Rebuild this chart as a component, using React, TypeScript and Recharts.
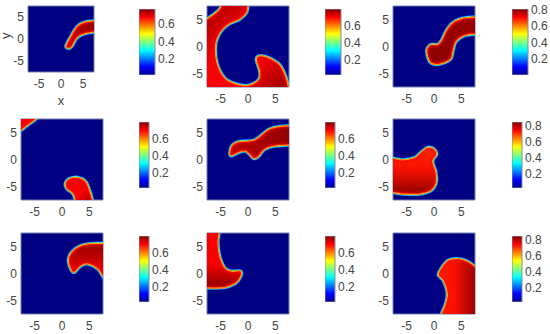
import React from "react";
import { BarChart, Bar, ScatterChart, Scatter, XAxis, YAxis, ReferenceArea } from "recharts";

type Pair = [number, number];

// outlines, in axis units; they run past +-7.5 where a blob meets the frame
const shape1: Pair[] = [[1.1, -1.4], [2.3, 0.9], [3.6, 2.9], [5.3, 3.9], [7.5, 4.2], [9, 4.2], [9, 1.4], [7.5, 1.5], [5, 1.0], [3.6, 0.1], [2.5, -1.8], [1.8, -2.2], [1.2, -2]];
const shape2: Pair[] = [[-5, 7.44], [-4.5, 8.4], [0.37, 8.4], [0.06, 7.44], [-0.24, 6.2], [-1.46, 5.0], [-3.6, 4.0], [-5.1, 2.44], [-5.85, 0.3], [-5.6, -3.05], [-4.2, -5.8], [-2.07, -6.9], [0.06, -7.13], [1.9, -6.1], [2.07, -4.57], [1.46, -2.44], [2, -1.7], [3.7, -1.95], [5.85, -3.35], [6.95, -5.5], [7.44, -7.44], [7.6, -8.6], [-8.6, -8.6], [-8.6, 4.5], [-7.5, 5.2], [-6.34, 6], [-5.4, 6.8]];
const shape3: Pair[] = [[-1.4, -0.9], [-1.1, 0], [-0.5, 0.43], [0.73, 0.49], [1.5, 1.5], [2.4, 3.35], [3.8, 4.76], [5.6, 5.37], [7.5, 5.5], [9, 5.5], [9, 2.2], [7.5, 2.2], [5.6, 1.95], [4.1, 0.9], [3.6, -0.6], [3.17, -2.3], [1.95, -3.05], [0.43, -3.4], [-0.8, -2.9]];
const shape4a: Pair[] = [[-9, 4.2], [-7.5, 5.34], [-6, 6.5], [-4.66, 7.5], [-3.5, 9], [-9, 9]];
const shape4b: Pair[] = [[0.55, -4.4], [1.3, -3.5], [2.8, -3.25], [4.35, -4], [5.15, -5.83], [5.6, -7.42], [5.8, -9], [2.5, -9], [2.33, -7.42], [1.9, -6.3], [0.86, -5.5]];
const shape5: Pair[] = [[-3.4, 1.2], [-3, 2.6], [-1.77, 3.35], [0.67, 3.54], [1.9, 4.15], [3.7, 5.6], [5.55, 6.15], [7.5, 6.28], [9, 6.28], [9, 2.6], [7.5, 2.6], [4.9, 2.44], [3.1, 1.83], [1.9, 0.43], [1, 0.12], [0.24, 0.9], [-0.55, 1.5], [-1.77, 1.2], [-3, 0.6]];
const shape6: Pair[] = [[-9, 0.6], [-7.5, 0.3], [-5.67, 0], [-3.54, 0.43], [-2.3, 1.5], [-1.1, 2.3], [0.12, 1.95], [0.55, 0.9], [-0.18, -0.3], [0.43, -2.44], [0.43, -4.4], [-0.5, -5.8], [-2.6, -6.46], [-5.67, -6.46], [-7.5, -6.2], [-9, -6.1]];
const shape7: Pair[] = [[1.1, 2.33], [1.6, 3.87], [3.13, 5.1], [5, 5.58], [7.55, 5.64], [9, 5.64], [9, -1.9], [7.55, -0.74], [6.5, 0.8], [4.66, 1.72], [3.4, 1.29], [2.33, 0.18], [1.7, 0.49]];
const shape8: Pair[] = [[-5.24, 7.44], [-5.43, 5.67], [-5.12, 3.23], [-4.2, 1.1], [-3, 0.49], [-1.28, 0.49], [-1.34, -0.73], [-2.38, -1.95], [-4.5, -2.68], [-7.5, -2.74], [-9, -2.74], [-9, 9], [-5.2, 9]];
const shape9: Pair[] = [[1.34, -7.38], [1.16, -9], [9, -9], [9, 0.6], [7.5, 1.4], [6.2, 2.3], [4.4, 2.8], [2.56, 2.5], [1.34, 1.1], [0.73, -0.3], [1.65, -1.34], [2.38, -3.78], [1.95, -5.9]];

const axisTicks = [-5, 0, 5];
const barTicksLow = [0.2, 0.4, 0.6];
const barTicksHigh = [0.2, 0.4, 0.6, 0.8];

// colorbar ranges per panel
const barRanges: Pair[] = [[0.017, 0.77], [0.024, 0.8], [0.005, 0.81], [0.012, 0.8], [0.012, 0.8], [0.025, 0.846], [0.012, 0.8], [0.012, 0.8], [0.025, 0.846]];

const INK = "#454545";
const FRAME = "#7480ac";
const NAVY = "#000082";
const FONT = "'Liberation Sans', Arial, sans-serif";
const tickStyle = { fill: INK, fontSize: 12, fontFamily: FONT };

const outerRings: [number, string][] = [[3, "#0060ff"], [2.2, "#10c8f0"], [1, "#a0f060"]];
const innerRings: [number, string, number][] = [[7, "#ff0000", 0.25], [4.5, "#ff0000", 0.4], [2.8, "#ff1000", 1], [1.9, "#ff7000", 1], [1, "#ffd020", 1]];

// closed catmull-rom through the projected points
function smoothPath(pts: { x: number; y: number }[]) {
  const n = pts.length;
  let d = `M${pts[0].x},${pts[0].y}`;
  for (let i = 0; i < n; i++) {
    const a = pts[(i - 1 + n) % n];
    const b = pts[i];
    const c = pts[(i + 1) % n];
    const e = pts[(i + 2) % n];
    d += `C${b.x + (c.x - a.x) / 6},${b.y + (c.y - a.y) / 6} ${c.x - (e.x - b.x) / 6},${c.y - (e.y - b.y) / 6} ${c.x},${c.y}`;
  }
  return d + "Z";
}

const blobLine = (id: string, gradId: string) => (props: any) => {
  const d = smoothPath(props.points);
  return (
    <g key={id}>
      <clipPath id={id}>
        <path d={d} />
      </clipPath>
      {outerRings.map(([w, c]) => (
        <path key={w} d={d} fill="none" stroke={c} strokeWidth={w} />
      ))}
      <path d={d} fill={`url(#${gradId})`} />
      <g clipPath={`url(#${id})`}>
        {innerRings.map(([w, c, o]) => (
          <path key={w} d={d} fill="none" stroke={c} strokeOpacity={o} strokeWidth={w} />
        ))}
      </g>
    </g>
  );
};

type PanelProps = {
  name: string;
  left: number;
  top: number;
  w: number;
  h: number;
  shapes: Pair[][];
  grad: [number, number, number, number];
  stops: [number, string][];
  labels?: boolean;
};

const Panel = ({ name, left, top, w, h, shapes, grad, stops, labels }: PanelProps) => {
  const padLeft = 28;
  const padTop = 4;
  return (
    <div style={{ position: "absolute", left: left - padLeft, top: top - padTop }}>
      <ScatterChart
        width={padLeft + w + 4}
        height={padTop + h + 36}
        margin={{ top: padTop, right: 4, bottom: 0, left: 0 }}
      >
        <defs>
          <linearGradient id={`${name}-fill`} x1={grad[0]} y1={grad[1]} x2={grad[2]} y2={grad[3]}>
            {stops.map(([o, c]) => (
              <stop key={o} offset={o} stopColor={c} />
            ))}
          </linearGradient>
        </defs>
        <XAxis
          type="number"
          dataKey="x"
          domain={[-7.5, 7.5]}
          ticks={axisTicks}
          allowDataOverflow
          height={36}
          tick={tickStyle}
          tickLine={false}
          tickSize={0}
          axisLine={false}
          tickMargin={7}
          interval={0}
          label={labels ? { value: "x", position: "insideBottom", offset: 3, fill: INK, fontSize: 13, fontFamily: FONT } : undefined}
        />
        <YAxis
          type="number"
          dataKey="y"
          domain={[-7.5, 7.5]}
          ticks={axisTicks}
          allowDataOverflow
          width={padLeft}
          tick={tickStyle}
          tickLine={false}
          tickSize={0}
          axisLine={false}
          tickMargin={4}
          interval={0}
          label={labels ? { value: "y", angle: -90, position: "insideLeft", offset: 0, dx: 5, fill: INK, fontSize: 13, fontFamily: FONT } : undefined}
        />
        <ReferenceArea x1={-7.5} x2={7.5} y1={-7.5} y2={7.5} fill={NAVY} fillOpacity={1} stroke={FRAME} />
        {shapes.map((s, i) => (
          <Scatter
            key={i}
            data={s.map(([x, y]) => ({ x, y }))}
            isAnimationActive={false}
            shape={() => <g />}
            line={blobLine(`${name}-clip-${i}`, `${name}-fill`)}
          />
        ))}
      </ScatterChart>
    </div>
  );
};

const ColorBar = ({ name, left, top, w, h, range, ticks }: { name: string; left: number; top: number; w: number; h: number; range: Pair; ticks: number[] }) => {
  const pad = 7;
  return (
    <div style={{ position: "absolute", left, top: top - pad }}>
      <BarChart
        width={w + 22}
        height={h + 2 * pad}
        data={[{ name, range }]}
        barCategoryGap={0}
        margin={{ top: pad, right: 0, bottom: pad, left: 0 }}
      >
        <defs>
          <linearGradient id={`${name}-jet`} x1={0} y1={1} x2={0} y2={0}>
            <stop offset={0} stopColor="#00008f" />
            <stop offset={0.125} stopColor="#0000ff" />
            <stop offset={0.375} stopColor="#00ffff" />
            <stop offset={0.625} stopColor="#ffff00" />
            <stop offset={0.875} stopColor="#ff0000" />
            <stop offset={1} stopColor="#800000" />
          </linearGradient>
        </defs>
        <XAxis dataKey="name" hide />
        <YAxis
          orientation="right"
          type="number"
          domain={range}
          ticks={ticks}
          allowDataOverflow
          interval={0}
          width={22}
          tick={tickStyle}
          tickLine={false}
          tickSize={0}
          axisLine={false}
          tickMargin={3}
          tickFormatter={(v: number) => v.toFixed(1)}
        />
        <Bar dataKey="range" fill={`url(#${name}-jet)`} stroke="#8a8a9c" isAnimationActive={false} />
      </BarChart>
    </div>
  );
};

const darkRed = "#8c0000";
const midRed = "#c00000";
const red = "#f80000";

export default function App() {
  return (
    <div style={{ position: "absolute", left: 0, top: 0, width: 550, height: 334, background: "#fff", overflow: "hidden" }}>
      <Panel name="p1" left={28} top={6} w={66} h={66} shapes={[shape1]} grad={[0, 0, 1, 0]} stops={[[0, midRed], [1, darkRed]]} labels />
      <Panel name="p2" left={207} top={6} w={82} h={81} shapes={[shape2]} grad={[0, 0, 1, 1]} stops={[[0, darkRed], [0.4, red], [0.62, red], [0.95, darkRed]]} />
      <Panel name="p3" left={393} top={6} w={82} h={81} shapes={[shape3]} grad={[0, 1, 1, 0]} stops={[[0, darkRed], [1, "#a00000"]]} />
      <Panel name="p4" left={21} top={119} w={82} h={81} shapes={[shape4a, shape4b]} grad={[0, 0, 1, 1]} stops={[[0, red], [0.55, red], [0.85, darkRed]]} />
      <Panel name="p5" left={207} top={119} w={82} h={81} shapes={[shape5]} grad={[0, 0, 1, 0]} stops={[[0, midRed], [1, darkRed]]} />
      <Panel name="p6" left={393} top={119} w={82} h={81} shapes={[shape6]} grad={[0, 0, 0, 1]} stops={[[0, "#ff2800"], [0.45, "#f81000"], [1, darkRed]]} />
      <Panel name="p7" left={21} top={233} w={82} h={81} shapes={[shape7]} grad={[0, 0, 0, 1]} stops={[[0, darkRed], [0.8, red], [1, red]]} />
      <Panel name="p8" left={207} top={233} w={82} h={81} shapes={[shape8]} grad={[0, 0, 0, 1]} stops={[[0, red], [0.6, red], [0.93, darkRed], [1, darkRed]]} />
      <Panel name="p9" left={393} top={233} w={82} h={81} shapes={[shape9]} grad={[0, 0, 1, 0]} stops={[[0, "#ff2000"], [0.35, "#f81000"], [0.82, darkRed]]} />

      <ColorBar name="c1" left={139} top={9} w={16} h={66} range={barRanges[0]} ticks={barTicksLow} />
      <ColorBar name="c2" left={325} top={9} w={16} h={66} range={barRanges[1]} ticks={barTicksLow} />
      <ColorBar name="c3" left={512} top={9} w={16} h={66} range={barRanges[2]} ticks={barTicksHigh} />
      <ColorBar name="c4" left={139} top={122} w={10} h={66} range={barRanges[3]} ticks={barTicksLow} />
      <ColorBar name="c5" left={325} top={122} w={10} h={66} range={barRanges[4]} ticks={barTicksLow} />
      <ColorBar name="c6" left={512} top={122} w={10} h={66} range={barRanges[5]} ticks={barTicksHigh} />
      <ColorBar name="c7" left={139} top={236} w={10} h={66} range={barRanges[6]} ticks={barTicksLow} />
      <ColorBar name="c8" left={325} top={236} w={10} h={66} range={barRanges[7]} ticks={barTicksLow} />
      <ColorBar name="c9" left={512} top={236} w={10} h={66} range={barRanges[8]} ticks={barTicksHigh} />
    </div>
  );
}
